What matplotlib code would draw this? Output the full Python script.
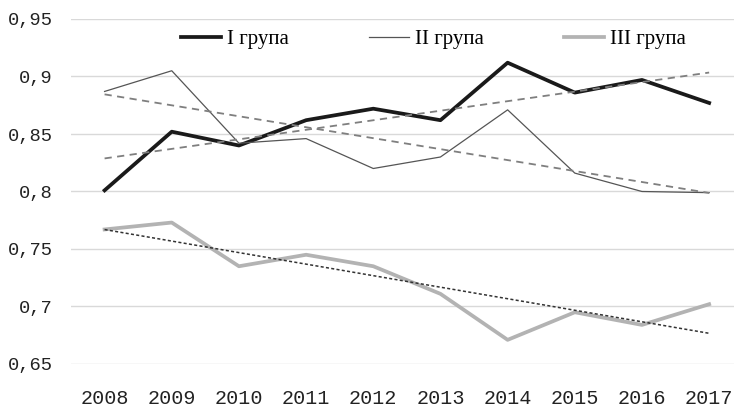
import numpy as np
import matplotlib
matplotlib.use("Agg")
import matplotlib.pyplot as plt
from matplotlib.ticker import FuncFormatter

years = ["2008", "2009", "2010", "2011", "2012", "2013", "2014", "2015", "2016", "2017"]
group1 = [0.801, 0.852, 0.840, 0.862, 0.872, 0.862, 0.912, 0.886, 0.897, 0.877]
group2 = [0.887, 0.905, 0.842, 0.846, 0.820, 0.830, 0.871, 0.816, 0.800, 0.799]
group3 = [0.767, 0.773, 0.735, 0.745, 0.735, 0.711, 0.671, 0.695, 0.684, 0.702]
labels = ["I група", "II група", "III група"]

fig = plt.figure(figsize=(7.34, 4.08), dpi=100)
ax = fig.add_axes([71/734, 1-364/408, 1-71/734, (364-19)/408])

x = np.arange(len(years))

def trend(y):
    k, b = np.polyfit(x, y, 1)
    return k * x + b

ax.plot(x, trend(group1), color="#7f7f7f", lw=1.3, dashes=(4, 3), zorder=3)
ax.plot(x, trend(group2), color="#7f7f7f", lw=1.3, dashes=(4, 3), zorder=3)
ax.plot(x, trend(group3), color="#333333", lw=1.1, dashes=(2, 1.5), zorder=4)

l1, = ax.plot(x, group1, color="#1a1a1a", lw=2.7, label=labels[0], zorder=2)
l2, = ax.plot(x, group2, color="#555555", lw=0.9, label=labels[1], zorder=2)
l3, = ax.plot(x, group3, color="#b3b3b3", lw=2.7, label=labels[2], zorder=2)

ax.set_ylim(0.65, 0.95)
ax.set_xlim(-0.5, 9.37)
ax.set_yticks([0.65, 0.7, 0.75, 0.8, 0.85, 0.9, 0.95])
ax.yaxis.set_major_formatter(FuncFormatter(lambda v, p: ("%g" % round(v, 2)).replace(".", ",")))
ax.set_xticks(x)
ax.set_xticklabels(years)
ax.grid(axis="y", color="#d9d9d9", lw=1)
ax.set_axisbelow(True)
for s in ax.spines.values():
    s.set_visible(False)
ax.tick_params(axis="both", length=0, colors="#222222")
ax.tick_params(axis="y", pad=13)
ax.tick_params(axis="x", pad=18)
for t in ax.get_xticklabels():
    t.set_fontfamily("Liberation Mono")
    t.set_fontsize(14.5)
for t in ax.get_yticklabels():
    t.set_fontfamily("Liberation Mono")
    t.set_fontsize(13.5)

leg = ax.legend(handles=[l1, l2, l3], loc="upper left", bbox_to_anchor=((182-71)/663 - 0.023, 1.012),
                ncol=3, frameon=False, prop={"family": "Liberation Serif", "size": 15},
                handlelength=1.9, handletextpad=0.3, columnspacing=3.85, borderpad=0.2)

fig.savefig("out.png", dpi=100, facecolor="white")
